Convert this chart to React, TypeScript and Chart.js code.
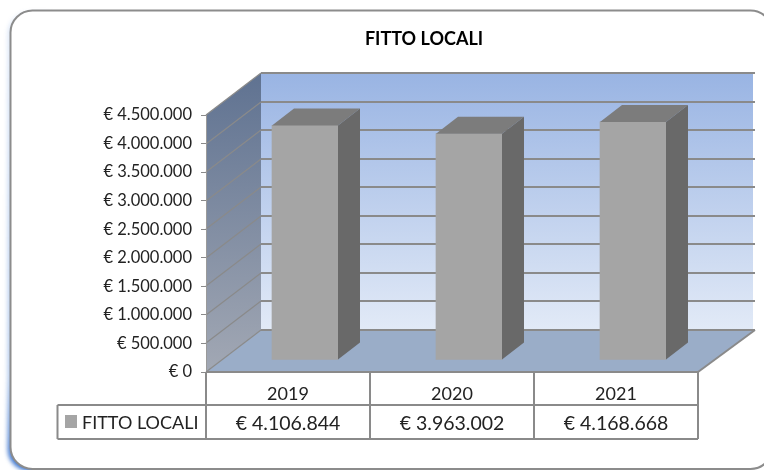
import React, { useEffect, useRef } from "react";
import { Chart, registerables } from "chart.js";

Chart.register(...registerables);

const categories = ["2019", "2020", "2021"];
const seriesName = "FITTO LOCALI";
const values = [4106844, 3963002, 4168668];
const FONT = "Lato, 'Open Sans', sans-serif";

const euro = (v: number) =>
  "€ " + String(Math.round(v)).replace(/\B(?=(\d{3})+(?!\d))/g, ".");

const DX = 55;
const DY = 42;
const GRID = "#8a8a8a";

const scene = {
  id: "scene",
  afterLayout(chart: any) {
    chart.scales.y.left = 60;
  },
  beforeDraw(chart: any) {
    const { ctx, chartArea: a, scales } = chart;
    const y = scales.y;
    ctx.save();
    ctx.fillStyle = "#fff";
    ctx.fillRect(0, 0, chart.width, chart.height);
    // soft glow, strongest toward the lower left corner
    ctx.save();
    const glow = ctx.createLinearGradient(0, 10, 0, 470);
    glow.addColorStop(0, "rgba(90,140,215,0.18)");
    glow.addColorStop(0.8, "rgba(90,140,215,0.45)");
    glow.addColorStop(1, "rgba(50,110,205,1)");
    ctx.filter = "blur(2px)";
    ctx.beginPath();
    ctx.roundRect(7.5, 12, 60, 459, 22);
    ctx.fillStyle = glow;
    ctx.fill();
    ctx.restore();
    ctx.beginPath();
    ctx.roundRect(10.5, 10.5, 762, 458.5, 22);
    ctx.fillStyle = "#fff";
    ctx.fill();
    ctx.strokeStyle = "#8c8c8c";
    ctx.lineWidth = 2;
    ctx.stroke();

    const L = a.left, R = a.right, T = a.top, B = a.bottom;
    let g = ctx.createLinearGradient(0, T - DY, 0, B - DY);
    g.addColorStop(0, "#99b4e3");
    g.addColorStop(1, "#e2eaf7");
    ctx.fillStyle = g;
    ctx.fillRect(L + DX, T - DY, R - L, B - T);
    g = ctx.createLinearGradient(0, T - DY, 0, B);
    g.addColorStop(0, "#5f7291");
    g.addColorStop(1, "#a2a8b4");
    ctx.fillStyle = g;
    ctx.beginPath();
    ctx.moveTo(L, T);
    ctx.lineTo(L + DX, T - DY);
    ctx.lineTo(L + DX, B - DY);
    ctx.lineTo(L, B);
    ctx.closePath();
    ctx.fill();
    ctx.fillStyle = "#9aadc8";
    ctx.beginPath();
    ctx.moveTo(L, B);
    ctx.lineTo(L + DX, B - DY);
    ctx.lineTo(R + DX + 2, B - DY);
    ctx.lineTo(R, B);
    ctx.closePath();
    ctx.fill();
    ctx.strokeStyle = GRID;
    for (const t of y.ticks) {
      const py = Math.round(y.getPixelForValue(t.value));
      ctx.lineWidth = 1.2;
      ctx.beginPath();
      ctx.moveTo(L, py);
      ctx.lineTo(L + DX, py - DY);
      ctx.stroke();
      ctx.lineWidth = 2;
      ctx.beginPath();
      ctx.moveTo(L + DX, py - DY);
      ctx.lineTo(R + DX + 2, py - DY);
      ctx.stroke();
    }
    ctx.beginPath();
    ctx.moveTo(R + DX + 2, B - DY);
    ctx.lineTo(R, B);
    ctx.stroke();
    ctx.restore();
  },
  beforeDatasetsDraw(chart: any) {
    chart.ctx.save();
    chart.ctx.translate(17, -12);
  },
  afterDatasetsDraw(chart: any) {
    const { ctx, chartArea: a, scales } = chart;
    ctx.restore();
    const bars = chart.getDatasetMeta(0).data;
    const ox = 17, oy = -12, dx = 22, dy = 17;
    ctx.save();
    for (const b of bars) {
      const l = b.x - b.width / 2 + ox;
      const r = b.x + b.width / 2 + ox;
      const t = b.y + oy;
      const bot = b.base + oy;
      ctx.fillStyle = "#7c7c7c";
      ctx.beginPath();
      ctx.moveTo(l, t);
      ctx.lineTo(l + dx, t - dy);
      ctx.lineTo(r + dx, t - dy);
      ctx.lineTo(r, t);
      ctx.closePath();
      ctx.fill();
      ctx.fillStyle = "#696969";
      ctx.beginPath();
      ctx.moveTo(r, t);
      ctx.lineTo(r + dx, t - dy);
      ctx.lineTo(r + dx, bot - dy);
      ctx.lineTo(r, bot);
      ctx.closePath();
      ctx.fill();
    }
    const x = scales.x;
    const B = a.bottom, rowA = B + 33, rowB = B + 67, legL = 57.5;
    const cols = categories.map((_, i) => x.getPixelForValue(i) - x.width / categories.length / 2);
    ctx.strokeStyle = GRID;
    ctx.lineWidth = 2;
    ctx.beginPath();
    ctx.moveTo(a.left, B);
    ctx.lineTo(a.right, B);
    ctx.moveTo(legL, rowA);
    ctx.lineTo(a.right, rowA);
    ctx.moveTo(legL, rowB);
    ctx.lineTo(a.right, rowB);
    ctx.moveTo(legL, rowA);
    ctx.lineTo(legL, rowB);
    [...cols, a.right].forEach((c) => {
      ctx.moveTo(c, B);
      ctx.lineTo(c, rowB);
    });
    ctx.stroke();
    ctx.fillStyle = "#a5a5a5";
    ctx.fillRect(65, rowA + 10, 12, 13);
    ctx.fillStyle = "#222";
    ctx.font = `18px ${FONT}`;
    ctx.textBaseline = "middle";
    ctx.textAlign = "left";
    ctx.fillText(seriesName, 82, rowA + 18.5);
    ctx.textAlign = "center";
    ctx.font = `19.5px ${FONT}`;
    values.forEach((v, i) => ctx.fillText(euro(v), x.getPixelForValue(i), rowA + 18.5));
    ctx.restore();
  },
};

export default function App() {
  const ref = useRef<HTMLCanvasElement | null>(null);
  useEffect(() => {
    const chart = new Chart(ref.current!, {
      type: "bar",
      data: {
        labels: categories,
        datasets: [
          {
            label: seriesName,
            data: values,
            backgroundColor: "#a5a5a5",
            barThickness: 66,
            clip: false,
          } as any,
        ],
      },
      plugins: [scene],
      options: {
        responsive: false,
        animation: false,
        layout: { padding: { left: 150, right: 66, top: 0, bottom: 0 } },
        plugins: {
          legend: { display: false },
          tooltip: { enabled: false },
          title: {
            display: true,
            text: seriesName,
            color: "#000",
            font: { family: FONT, size: 18, weight: "bold" },
            padding: { top: 28, bottom: 65.4 },
          },
        },
        scales: {
          x: {
            grid: { display: false, drawTicks: false },
            border: { display: false },
            ticks: { color: "#222", font: { family: FONT, size: 18 }, padding: 11, maxRotation: 0 },
            afterFit: (s: any) => { s.height = 98; },
          },
          y: {
            min: 0,
            max: 4500000,
            afterFit: (s: any) => { s.width = 56; },
            grid: { drawOnChartArea: false, tickLength: 5, color: GRID },
            border: { color: "#9a9a9a" },
            ticks: {
              stepSize: 500000,
              color: "#222",
              font: { family: FONT, size: 16.5 },
              padding: 9,
              callback: (v: any) => euro(Number(v)),
            },
          },
        },
      },
    } as any);
    return () => chart.destroy();
  }, []);
  return (
    <canvas
      ref={ref}
      width={764}
      height={470}
      style={{ position: "fixed", left: 0, top: 0, display: "block" }}
    />
  );
}
